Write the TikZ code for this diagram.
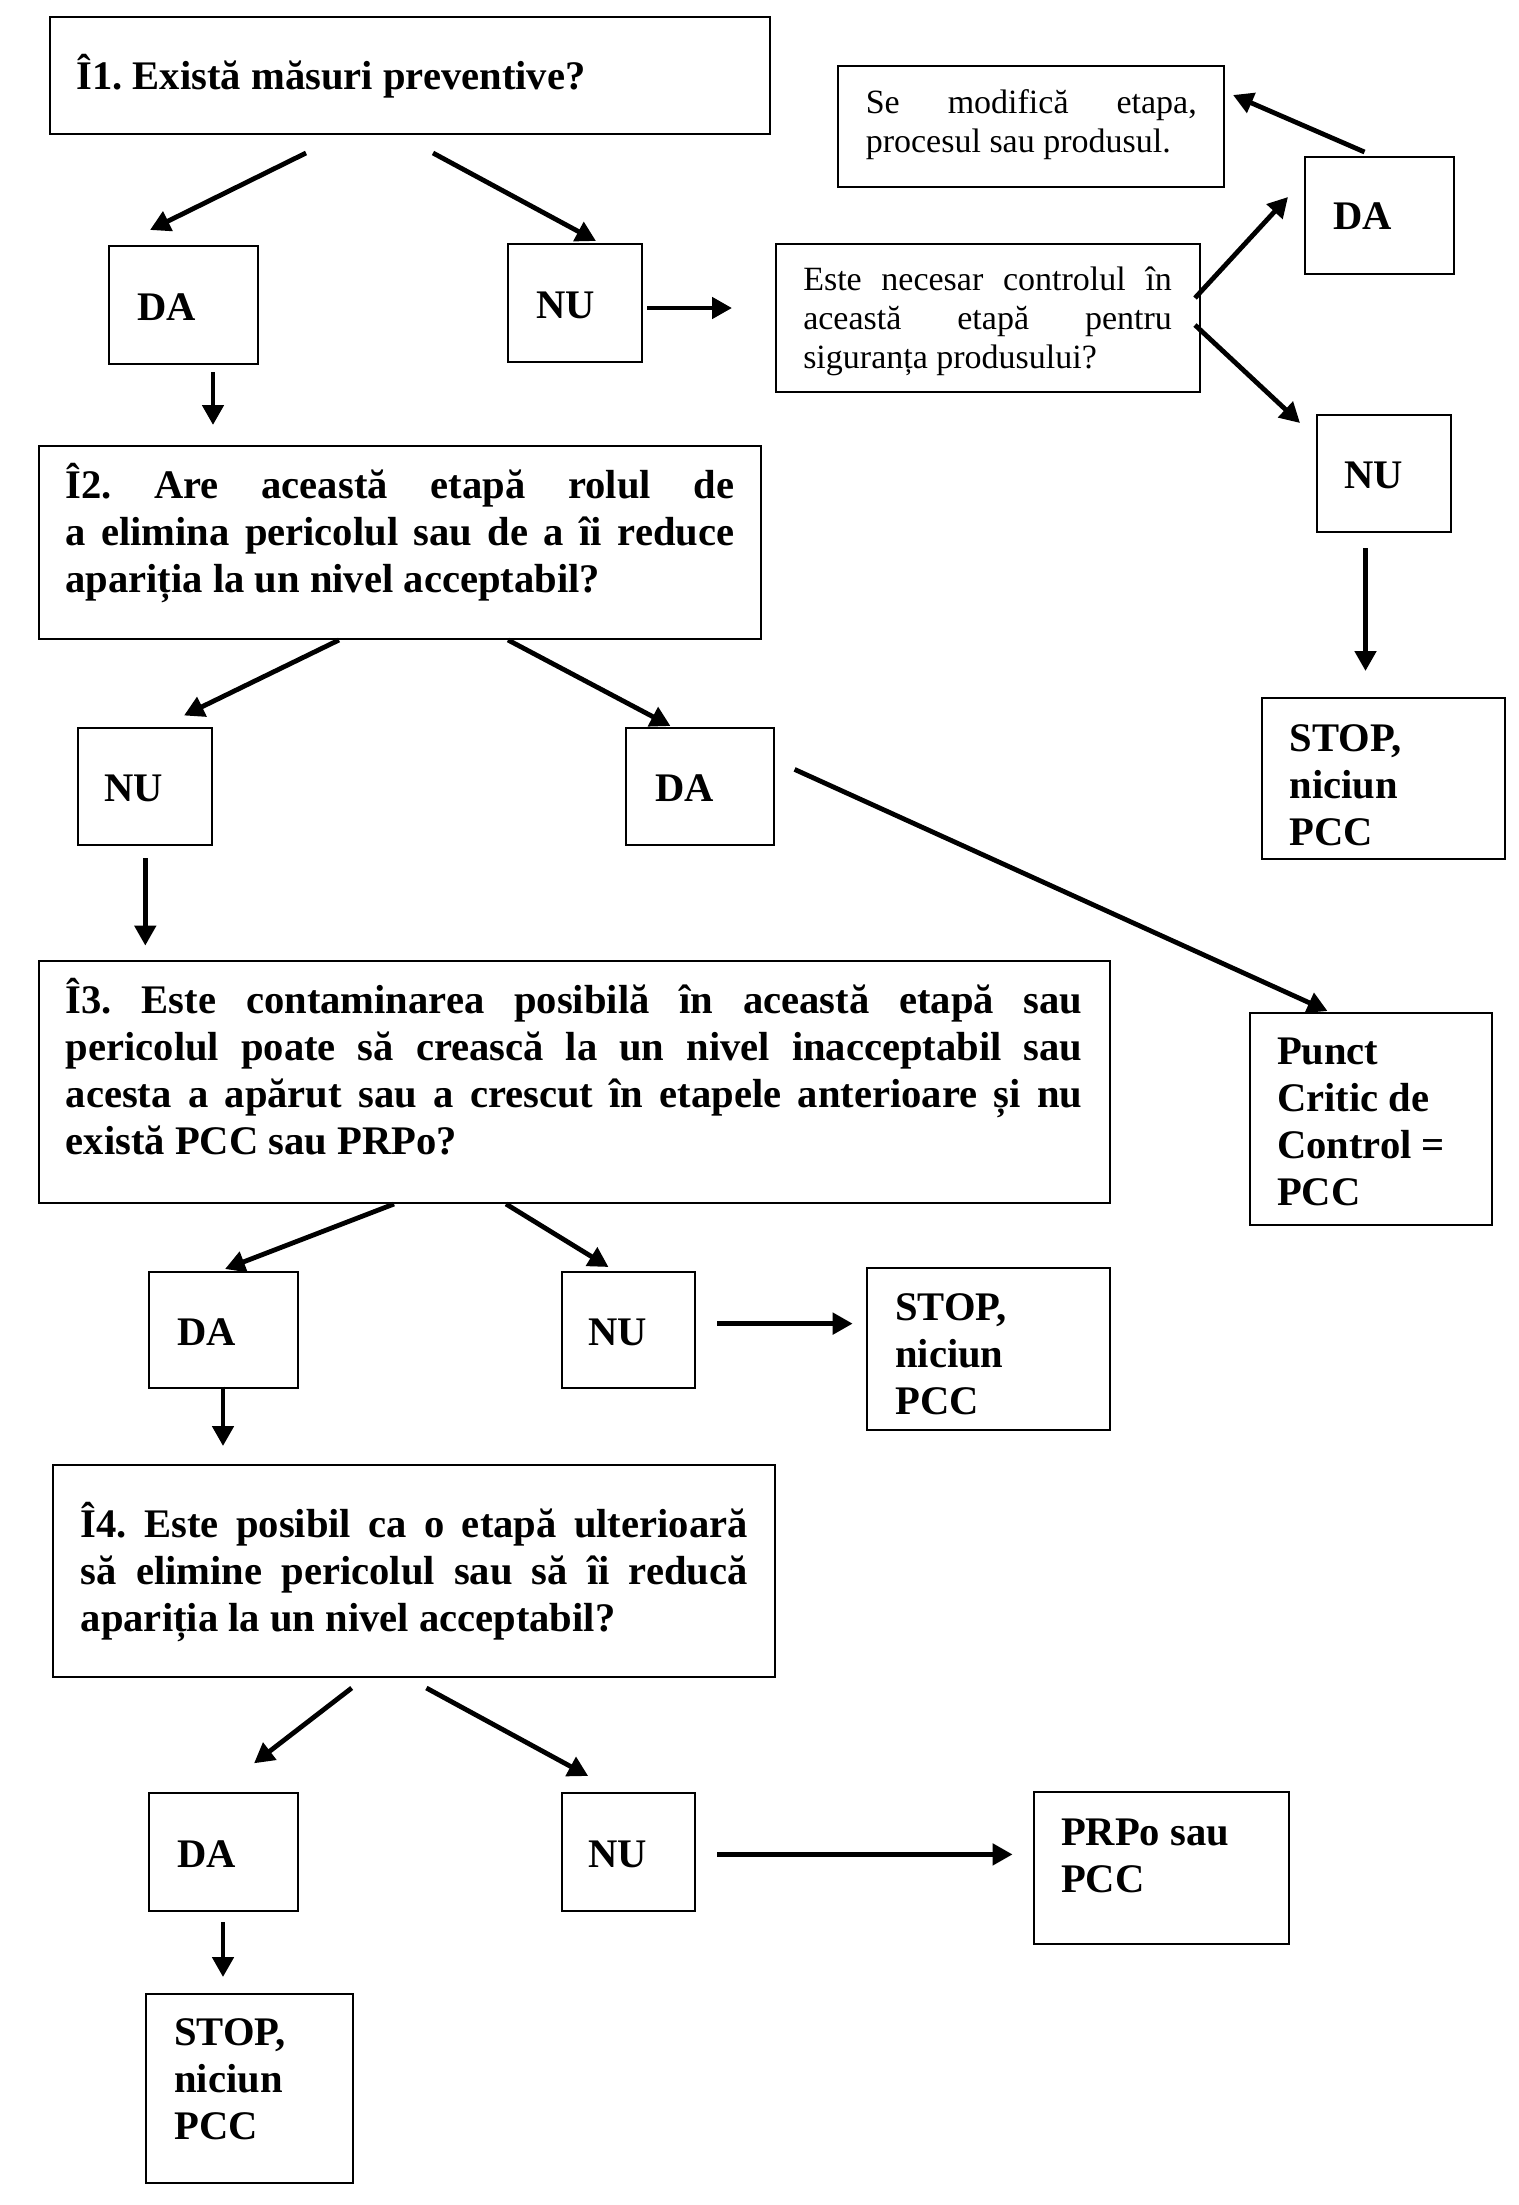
\documentclass[tikz,border=0pt]{standalone}
\usepackage{fontspec}
\setmainfont{Liberation Serif}
\usetikzlibrary{arrows.meta}
\frenchspacing
\newcommand\bb[4]{\parbox[c][#1][t]{#2}{\fontsize{20.3pt}{23.5pt}\selectfont\bfseries\frenchspacing\vspace*{#3}\hbox{}#4}}
\newcommand\rr[4]{\parbox[c][#1][t]{#2}{\fontsize{17pt}{19.5pt}\selectfont\frenchspacing\vspace*{#3}\hbox{}#4}}
\newcommand\jl[1]{\makebox[\linewidth][s]{#1}}
\tikzset{
  bx/.style={draw, line width=1pt, inner ysep=0pt, outer sep=0pt, anchor=center},
  arr/.style={line width=2.4pt, -{Triangle[length=10pt,width=10.5pt]}}
}
\begin{document}
\begin{tikzpicture}[x=0.5pt,y=-0.5pt]
\useasboundingbox (0,0) rectangle (1519,2205);
\fill[white] (0,0) rectangle (1519,2205);

% boxes
\node[bx, inner xsep=13.5pt] (I1) at (409.75,75.35) {\bb{58.65pt}{333.25pt}{13.15pt}{Î1. Există măsuri preventive?}};
\node[bx, inner xsep=14pt] (DA1) at (183.5,305) {\bb{59pt}{46.5pt}{13.85pt}{DA}};
\node[bx, inner xsep=14pt] (NU1) at (575,303) {\bb{59pt}{39pt}{13.65pt}{NU}};
\node[bx, inner xsep=13.75pt] (SM) at (1031.3,126.3) {\rr{60.3pt}{165.5pt}{4pt}{\jl{Se modifică etapa,}\\ procesul sau produsul.}};
\node[bx, inner xsep=13.875pt] (EN) at (987.6,318) {\rr{74pt}{184.35pt}{3.5pt}{\jl{Este necesar controlul în}\\ \jl{această etapă pentru}\\ siguranța produsului?}};
\node[bx, inner xsep=14.3pt] (DA2) at (1379.5,215.55) {\bb{58.85pt}{45.9pt}{13pt}{DA}};
\node[bx, inner xsep=14pt] (NU2) at (1383.9,473.25) {\bb{58.75pt}{39.4pt}{13.25pt}{NU}};
\node[bx, inner xsep=14pt] (ST1) at (1383.25,778.45) {\bb{80.95pt}{93.75pt}{3.25pt}{STOP,\\ niciun\\ PCC}};
\node[bx, inner xsep=13.25pt] (I2) at (399.75,542.3) {\bb{96.3pt}{334.45pt}{2.75pt}{\jl{Î2. Are această etapă rolul de}\\ \jl{a elimina pericolul sau de a îi reduce}\\ apariția la un nivel acceptabil?}};
\node[bx, inner xsep=13.5pt] (NU3) at (144.85,786.25) {\bb{58.75pt}{40.35pt}{13.65pt}{NU}};
\node[bx, inner xsep=14.5pt] (DA3) at (700,786.25) {\bb{58.75pt}{45pt}{13.65pt}{DA}};
\node[bx, inner xsep=13.5pt] (PC) at (1371,1119) {\bb{106.4pt}{94pt}{2.4pt}{Punct\\ Critic de\\ Control =\\ PCC}};
\node[bx, inner xsep=13.5pt] (I3) at (574.15,1082) {\bb{121pt}{508.35pt}{2.8pt}{\jl{Î3. Este contaminarea posibilă în această etapă sau}\\ \jl{pericolul poate să crească la un nivel inacceptabil sau}\\ \jl{acesta a apărut sau a crescut în etapele anterioare și nu}\\ există PCC sau PRPo?}};
\node[bx, inner xsep=14pt] (DA4) at (223.35,1329.9) {\bb{58.4pt}{46.15pt}{13.55pt}{DA}};
\node[bx, inner xsep=13pt] (NU4) at (628.4,1329.9) {\bb{58.4pt}{40.4pt}{13.55pt}{NU}};
\node[bx, inner xsep=14pt] (ST2) at (988.35,1349.05) {\bb{81.35pt}{93.15pt}{2.9pt}{STOP,\\ niciun\\ PCC}};
\node[bx, inner xsep=13.75pt] (I4) at (414.25,1571.15) {\bb{106.15pt}{333.45pt}{12.5pt}{\jl{Î4. Este posibil ca o etapă ulterioară}\\ \jl{să elimine pericolul sau să îi reducă}\\ apariția la un nivel acceptabil?}};
\node[bx, inner xsep=14pt] (DA5) at (223.35,1852) {\bb{59pt}{46.15pt}{13.5pt}{DA}};
\node[bx, inner xsep=13pt] (NU5) at (628.4,1852) {\bb{59pt}{40.4pt}{13.5pt}{NU}};
\node[bx, inner xsep=13.5pt] (PR) at (1161.4,1867.95) {\bb{76.35pt}{100.4pt}{3.2pt}{PRPo sau\\ PCC}};
\node[bx, inner xsep=14pt] (ST3) at (249.5,2088.45) {\bb{94.55pt}{75.2pt}{2.5pt}{STOP,\\ niciun\\ PCC}};

% connector end points
\coordinate (a1s) at (306,153);    \coordinate (a1e) at (150,230);
\coordinate (a2s) at (433,153);    \coordinate (a2e) at (596,241);
\coordinate (a3s) at (647,308);    \coordinate (a3e) at (732,308);
\coordinate (a4s) at (213,372);    \coordinate (a4e) at (213,425);
\coordinate (a5s) at (1195,298);   \coordinate (a5e) at (1288,197);
\coordinate (a6s) at (1195,325);   \coordinate (a6e) at (1300,423);
\coordinate (a7s) at (1364.5,152); \coordinate (a7e) at (1233,95);
\coordinate (a8s) at (1365.5,548); \coordinate (a8e) at (1365.5,671);
\coordinate (a9s) at (339,640);    \coordinate (a9e) at (184,715.5);
\coordinate (a10s) at (508,640);   \coordinate (a10e) at (670.5,726);
\coordinate (a11s) at (794.6,769.4); \coordinate (a11e) at (1327.5,1011);
\coordinate (a12s) at (145.3,858); \coordinate (a12e) at (145.3,945.6);
\coordinate (a13s) at (394,1204);  \coordinate (a13e) at (225,1269);
\coordinate (a14s) at (506,1204);  \coordinate (a14e) at (608.5,1267);
\coordinate (a15s) at (717,1323.6); \coordinate (a15e) at (852.7,1323.6);
\coordinate (a16s) at (223,1386.5); \coordinate (a16e) at (223,1446);
\coordinate (a17s) at (351.7,1688); \coordinate (a17e) at (254,1763.3);
\coordinate (a18s) at (426.4,1688); \coordinate (a18e) at (588.2,1776);
\coordinate (a19s) at (717,1854.4); \coordinate (a19e) at (1012.6,1854.4);
\coordinate (a20s) at (223,1922);   \coordinate (a20e) at (223,1977);

% connectors
\foreach \i in {1,...,20} { \draw[arr] (a\i s) -- (a\i e); }
\end{tikzpicture}
\end{document}
